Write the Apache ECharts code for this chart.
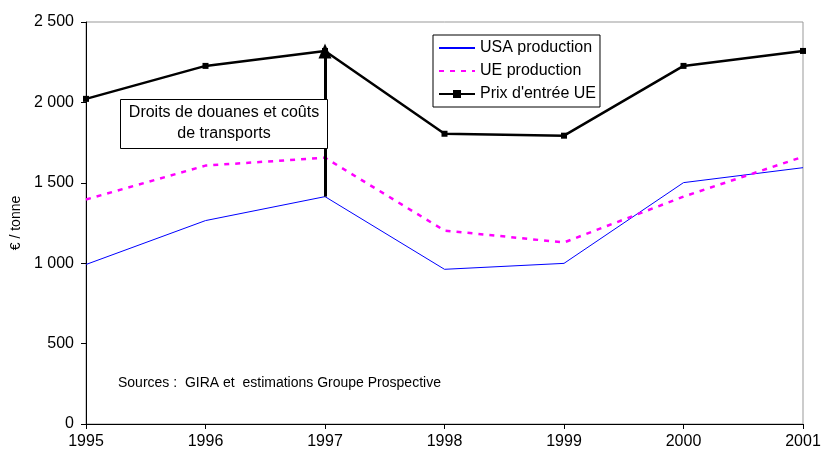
<!DOCTYPE html>
<html style="height: 100%">
<head>
<meta charset="utf-8">
</head>
<body style="height: 100%; margin: 0; background: #fff">
<div id="container" style="width: 821px; height: 455px"></div>
<script type="text/javascript" src="https://cdn.jsdelivr.net/npm/echarts/dist/echarts.min.js"></script>
<script type="text/javascript">
var years = ['1995', '1996', '1997', '1998', '1999', '2000', '2001'];
var usaProd = [992, 1265, 1414, 962, 999, 1501, 1594];
var ueProd = [1396, 1607, 1656, 1203, 1129, 1414, 1662];
var prixEntree = [2022, 2227, 2320, 1805, 1793, 2227, 2320];
// flèche droits de douane : de USA 1997 au prix d'entrée 1997
var arrowFrom = 1414;
var arrowTo = 2320;

var dom = document.getElementById('container');
var myChart = echarts.init(dom);
var font = 'Liberation Sans, Arial, sans-serif';

function fmt(v) {
    var s = String(v);
    return s.length > 3 ? s.slice(0, s.length - 3) + ' ' + s.slice(-3) : s;
}

var option = {
    animation: false,
    textStyle: {fontFamily: font},
    grid: {
        left: 86, right: 18, top: 22, bottom: 31,
        outerBoundsMode: 'none',
        containLabel: false,
        show: true, borderColor: '#999', borderWidth: 1, backgroundColor: '#fff'
    },
    legend: {
        orient: 'vertical',
        left: 433, top: 35,
        padding: [5, 4, 5, 5],
        itemGap: 7,
        itemWidth: 36, itemHeight: 10,
        borderColor: '#000', borderWidth: 1,
        backgroundColor: '#fff',
        textStyle: {fontSize: 16, color: '#000', fontFamily: font},
        data: [
            {name: 'USA production', itemStyle: {opacity: 0}},
            {name: 'UE production', itemStyle: {opacity: 0}},
            {name: "Prix d'entrée UE"}
        ]
    },
    xAxis: {
        type: 'category',
        data: years,
        boundaryGap: false,
        axisLine: {lineStyle: {color: '#000', width: 1}},
        axisTick: {length: 5, lineStyle: {color: '#000'}},
        axisLabel: {fontSize: 16, color: '#000', margin: 10, fontFamily: font},
        splitLine: {show: false}
    },
    yAxis: {
        type: 'value',
        min: 0, max: 2500, interval: 500,
        name: '€ / tonne',
        nameLocation: 'middle',
        nameGap: 59,
        nameRotate: 90,
        nameTextStyle: {fontSize: 14, color: '#000', fontFamily: font},
        axisLine: {show: true, lineStyle: {color: '#000', width: 1}},
        axisTick: {show: true, length: 5, lineStyle: {color: '#000'}},
        axisLabel: {fontSize: 16, color: '#000', margin: 12, formatter: fmt, fontFamily: font},
        splitLine: {show: false}
    },
    series: [
        {
            name: 'USA production',
            type: 'line',
            data: usaProd,
            symbol: 'none',
            lineStyle: {color: '#0000ff', width: 1},
            itemStyle: {color: '#0000ff'}
        },
        {
            name: 'UE production',
            type: 'line',
            data: ueProd,
            symbol: 'none',
            lineStyle: {color: '#ff00ff', width: 2.5, type: [5, 6]},
            itemStyle: {color: '#ff00ff'}
        },
        {
            name: "Prix d'entrée UE",
            type: 'line',
            data: prixEntree,
            symbol: 'rect',
            symbolSize: 6,
            lineStyle: {color: '#000', width: 2.5},
            itemStyle: {color: '#000'},
            markLine: {
                silent: true,
                symbol: ['none', 'triangle'],
                symbolSize: [13, 15],
                label: {show: false},
                lineStyle: {color: '#000', width: 3, type: 'solid'},
                data: [[
                    {coord: ['1997', arrowFrom]},
                    {coord: ['1997', arrowTo]}
                ]]
            }
        }
    ],
    graphic: [
        {
            type: 'rect',
            left: 120, top: 99,
            z: 10,
            shape: {width: 207, height: 49},
            style: {fill: '#fff', stroke: '#000', lineWidth: 1}
        },
        {
            type: 'text',
            x: 224, y: 102,
            z: 11,
            style: {
                text: 'Droits de douanes et coûts\nde transports',
                font: '16px ' + font,
                lineHeight: 21,
                fill: '#000',
                align: 'center'
            }
        },
        {
            type: 'text',
            left: 118, top: 376,
            style: {
                text: 'Sources :  GIRA et  estimations Groupe Prospective',
                font: '14px ' + font,
                fill: '#000'
            }
        }
    ]
};
myChart.setOption(option);
</script>
</body>
</html>
